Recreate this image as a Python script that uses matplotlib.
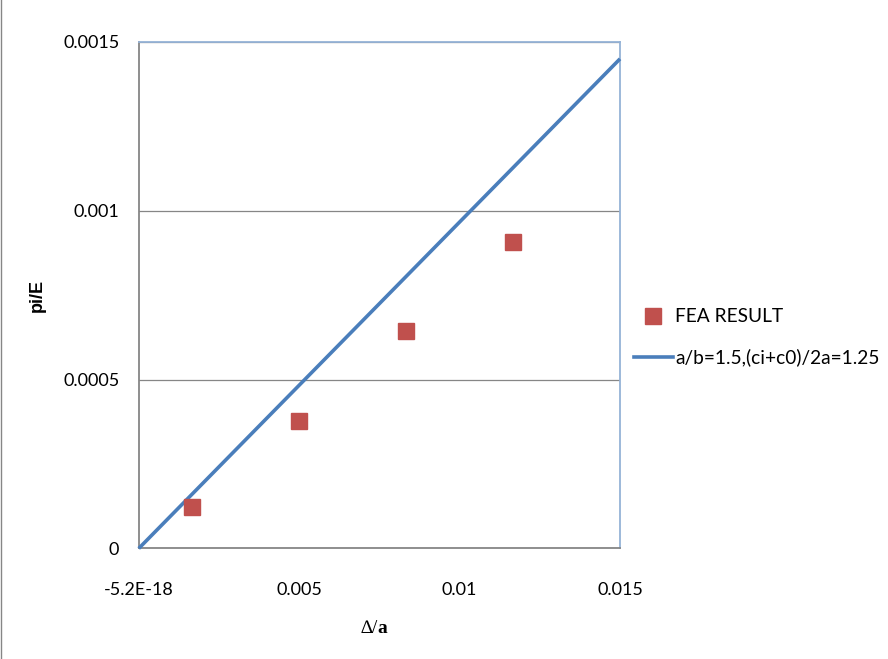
import matplotlib
matplotlib.use("Agg")
import matplotlib.pyplot as plt
from matplotlib.lines import Line2D

# FEA results: normalised displacement vs. normalised pressure
fea_x = [0.001667, 0.005, 0.008333, 0.011667]
fea_y = [0.000124, 0.000378, 0.000645, 0.000909]

# Analytical line for a/b=1.5, (ci+c0)/2a=1.25
line_x = [0.0, 0.015]
line_y = [0.0, 0.00145]

x_ticks = [0.0, 0.005, 0.01, 0.015]
x_tick_labels = ["-5.2E-18", "0.005", "0.01", "0.015"]
y_ticks = [0.0, 0.0005, 0.001, 0.0015]
y_tick_labels = ["0", "0.0005", "0.001", "0.0015"]

fea_label = "FEA RESULT"
line_label = "a/b=1.5,(ci+c0)/2a=1.25"

plt.rcParams["font.family"] = ["Lato", "DejaVu Sans"]

fig = plt.figure(figsize=(8.88, 6.59), dpi=100)
ax = fig.add_axes([0.1562, 0.1677, 0.5420, 0.7686])

ax.set_xlim(0, 0.015)
ax.set_ylim(0, 0.0015)

ax.yaxis.grid(True, color="#868686", linewidth=0.9)
ax.set_axisbelow(True)

ax.plot(line_x, line_y, color="#4A7EBB", linewidth=2.6, solid_capstyle="butt",
        zorder=3, clip_on=False)
ax.plot(fea_x, fea_y, linestyle="none", marker="s", markersize=11,
        color="#C0504D", markeredgecolor="#C0504D", zorder=4)

ax.set_xticks(x_ticks)
ax.set_xticklabels(x_tick_labels)
ax.set_yticks(y_ticks)
ax.set_yticklabels(y_tick_labels)
ax.tick_params(axis="both", length=0, labelsize=13, colors="#000000")
ax.tick_params(axis="x", pad=24)
ax.tick_params(axis="y", pad=14)

for side in ("left", "bottom"):
    ax.spines[side].set_color("#868686")
    ax.spines[side].set_linewidth(1.3)
for side in ("top", "right"):
    ax.spines[side].set_color("#95B3D7")
    ax.spines[side].set_linewidth(1.3)

fig.text(0.042, 0.552, "pi/E", rotation=90, fontsize=13, fontweight="bold",
         ha="center", va="center", family=["Liberation Sans", "DejaVu Sans"])

# x-axis title: plain delta and slash, bold "a"
serif = ["Liberation Serif", "DejaVu Serif"]
fig.text(0.4255, 0.047, "\u2206/", fontsize=14, ha="right", va="center",
         family=serif)
fig.text(0.4255, 0.047, "a", fontsize=14, fontweight="bold", ha="left",
         va="center", family=serif)

handles = [
    Line2D([], [], linestyle="none", marker="s", markersize=11,
           color="#C0504D"),
    Line2D([], [], color="#4A7EBB", linewidth=2.6),
]
fig.legend(handles, [fea_label, line_label], loc="center left",
           bbox_to_anchor=(0.705, 0.488), frameon=False, fontsize=13.8,
           handlelength=2.05, handletextpad=0.1, labelspacing=1.2,
           borderaxespad=0)

# thin frame line along the left edge of the chart area
fig.add_artist(Line2D([0.0015, 0.0015], [0, 1], transform=fig.transFigure,
                      color="#868686", linewidth=1.0))

fig.savefig("out.png", dpi=100, facecolor="white")
